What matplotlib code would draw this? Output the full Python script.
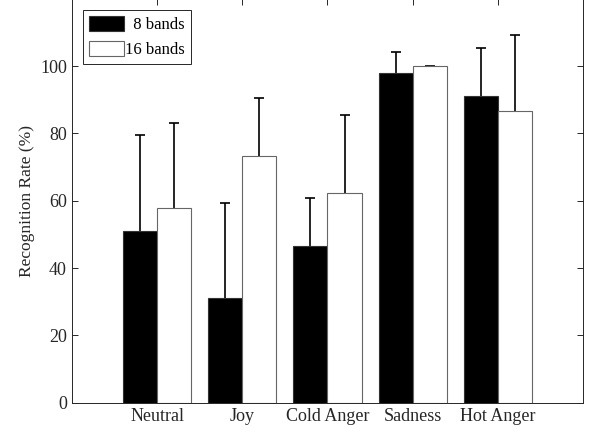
import numpy as np
import matplotlib
matplotlib.use("Agg")
import matplotlib.pyplot as plt

plt.rcParams['font.family'] = ['Liberation Serif', 'DejaVu Serif']

categories = ['Neutral', 'Joy', 'Cold Anger', 'Sadness', 'Hot Anger']
series_names = ['  8 bands', '16 bands']
mean_8 = [51.1, 31.2, 46.6, 97.8, 91.2]
upper_8 = [79.5, 59.4, 60.8, 104.3, 105.5]   # top of error bar
mean_16 = [57.8, 73.2, 62.2, 100.0, 86.7]
upper_16 = [83.1, 90.5, 85.5, 100.0, 109.1]
yticks = [0, 20, 40, 60, 80, 100]

x = np.arange(1, len(categories) + 1)
w = 0.4
err_8 = np.array(upper_8) - np.array(mean_8)
err_16 = np.array(upper_16) - np.array(mean_16)

fig = plt.figure(figsize=(5.89, 4.36), dpi=100)
ax = fig.add_axes([0.122, 0.0764, 0.868, 0.9266])

ax.bar(x - w / 2, mean_8, w, color='black', edgecolor='#333333', linewidth=0.8,
       label=series_names[0], zorder=2)
ax.bar(x + w / 2, mean_16, w, color='white', edgecolor='#666666', linewidth=0.8,
       label=series_names[1], zorder=2)
for xs, m, e in [(x - w / 2, mean_8, err_8), (x + w / 2, mean_16, err_16)]:
    eb = ax.errorbar(xs, m, yerr=[np.zeros_like(e), e], fmt='none',
                     ecolor='black', elinewidth=1.2, capsize=3.5, capthick=1.2,
                     zorder=1)
    # only the upper cap is wanted
    eb[1][0].set_visible(False)

ax.set_xlim(0, 6)
ax.set_ylim(0, 120)
ax.set_xticks(x)
ax.set_xticklabels(categories)
ax.set_yticks(yticks)
ax.tick_params(direction='in', top=True, right=True, labelsize=13, length=4,
               width=0.7, colors='#262626')
ax.set_ylabel('Recognition Rate (%)', fontsize=12.5, color='#262626')
for s in ax.spines.values():
    s.set_linewidth(0.7)
    s.set_color('#262626')

leg = ax.legend(loc='upper left', bbox_to_anchor=(0.015, 0.98), fontsize=12,
                fancybox=False, framealpha=1, edgecolor='#262626',
                handlelength=2.1, handleheight=1.0, handletextpad=0.1,
                borderpad=0.35, labelspacing=0.45, borderaxespad=0.2)
leg.get_frame().set_linewidth(0.7)

fig.savefig('out.png', dpi=100)
